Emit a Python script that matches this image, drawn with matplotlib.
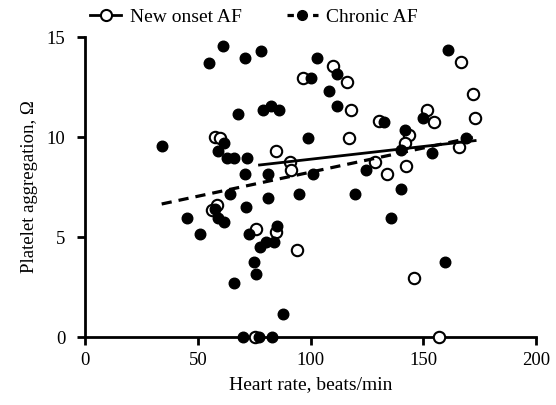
import matplotlib
matplotlib.use("Agg")
import matplotlib.pyplot as plt
from matplotlib.lines import Line2D

plt.rcParams['font.family'] = ['Liberation Serif', 'DejaVu Serif']

# New onset AF (open circles)
new_x = [57.5, 59.8, 56.5, 58.5, 75.9, 84.8, 84.8, 90.7, 91.4, 94.1, 96.6, 109.9,
         116.1, 118.0, 116.9, 128.4, 134.0, 130.5, 143.9, 141.7, 142.2, 151.8,
         154.7, 165.8, 166.9, 172.1, 173.1, 145.9, 156.8, 75.5]
new_y = [10.0, 9.95, 6.35, 6.6, 5.38, 5.27, 9.32, 8.77, 8.35, 4.35, 12.97, 13.55,
         12.77, 11.35, 9.97, 8.77, 8.15, 10.8, 10.1, 9.68, 8.57, 11.35,
         10.73, 9.52, 13.73, 12.15, 10.97, 2.93, 0.0, 0.0]

# Chronic AF (filled circles)
chr_x = [34.0, 61.1, 55.2, 67.8, 61.8, 58.9, 63.0, 66.0, 71.9, 71.0, 81.1, 71.0,
         78.1, 103.0, 100.0, 111.8, 108.0, 111.8, 79.1, 82.3, 86.2, 132.5, 98.8,
         101.0, 124.7, 149.9, 141.7, 140.0, 168.8, 153.8, 140.0, 160.9, 64.1,
         57.8, 58.9, 61.8, 45.3, 51.2, 66.2, 71.2, 81.1, 94.8, 119.8, 135.8,
         72.9, 85.2, 77.4, 80.3, 84.0, 74.9, 75.9, 88.0, 70.0, 77.1, 83.0, 159.8]
chr_y = [9.55, 14.57, 13.7, 11.15, 9.72, 9.32, 8.97, 8.97, 8.97, 8.15, 8.15, 13.93,
         14.3, 13.93, 12.97, 13.13, 12.32, 11.55, 11.35, 11.55, 11.35, 10.73, 9.97,
         8.15, 8.35, 10.93, 10.35, 9.35, 9.97, 9.18, 7.38, 14.35, 7.13,
         6.4, 5.93, 5.77, 5.97, 5.13, 2.72, 6.52, 6.93, 7.13, 7.13, 5.93,
         5.13, 5.55, 4.52, 4.77, 4.77, 3.77, 3.13, 1.15, 0.0, 0.0, 0.0, 3.73]

# Regression line endpoints
new_fit_x = [77.4, 173.0]
new_fit_y = [8.6, 9.82]
chr_fit_x = [34.0, 172.0]
chr_fit_y = [6.65, 9.98]

x_ticks = [0, 50, 100, 150, 200]
y_ticks = [0, 5, 10, 15]

fig = plt.figure(figsize=(5.56, 4.05), dpi=100)
ax = fig.add_axes([85/556, 1-337/405, (536-85)/556, 300/405])

ax.plot(new_x, new_y, 'o', mfc='white', mec='black', mew=1.5, markersize=8.2,
        zorder=3, clip_on=False)
ax.plot(chr_x, chr_y, 'o', color='black', markersize=7.6, zorder=4, clip_on=False)
ax.plot(new_fit_x, new_fit_y, '-', color='black', lw=2.0, zorder=5)
ax.plot(chr_fit_x, chr_fit_y, '--', color='black', lw=2.3, dashes=(3.2, 2.2), zorder=5)

ax.set_xlim(0, 200)
ax.set_ylim(0, 15)
ax.set_xticks(x_ticks)
ax.set_yticks(y_ticks)
for s in ['top', 'right']:
    ax.spines[s].set_visible(False)
for s in ['left', 'bottom']:
    ax.spines[s].set_linewidth(2.0)
ax.tick_params(axis='both', width=2.0, length=6, labelsize=13.5, colors='black')
ax.tick_params(axis='x', pad=5)
ax.tick_params(axis='y', pad=8)

ax.set_xlabel('Heart rate, beats/min', fontsize=14, labelpad=5)
ax.set_ylabel('Platelet aggregation, Ω', fontsize=13.5, labelpad=6)

h1 = Line2D([], [], color='black', lw=2.0, marker='o', mfc='white', mec='black',
            mew=1.5, markersize=8)
h2 = Line2D([], [], color='black', lw=2.3, ls='--', dashes=(2.0, 2.0), marker='o',
            mfc='black', markersize=7)
fig.legend([h1, h2], ['New onset AF', 'Chronic AF'], loc='center',
           bbox_to_anchor=(0.457, 0.957), ncol=2, frameon=False, fontsize=14,
           handlelength=1.6, handletextpad=0.45, columnspacing=2.3)

fig.savefig('out.png', dpi=100)
